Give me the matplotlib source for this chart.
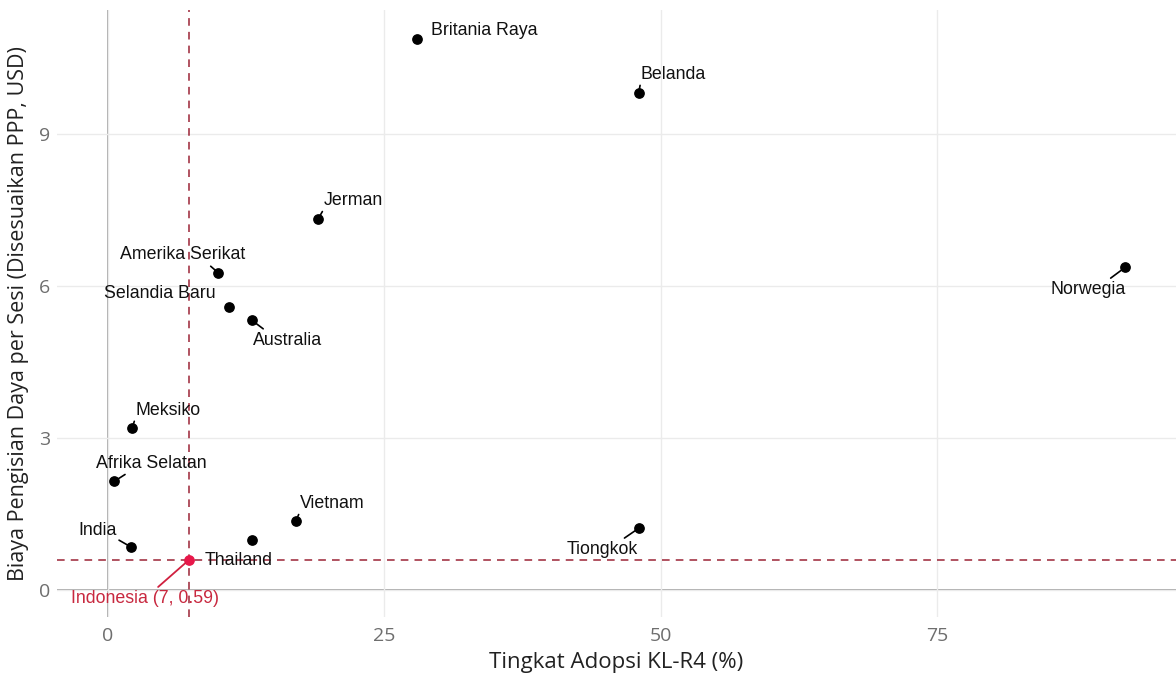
import matplotlib.pyplot as plt

# data
countries = ['Britania Raya', 'Belanda', 'Jerman', 'Amerika Serikat', 'Selandia Baru',
             'Australia', 'Norwegia', 'Meksiko', 'Afrika Selatan', 'Vietnam',
             'Tiongkok', 'India', 'Thailand']
adoption = [28.0, 48.0, 19.0, 10.0, 11.0, 13.0, 92.0, 2.2, 0.6, 17.0, 48.0, 2.1, 13.0]
cost = [10.87, 9.81, 7.32, 6.26, 5.59, 5.33, 6.37, 3.20, 2.15, 1.36, 1.22, 0.85, 0.99]

idn_name = 'Indonesia'
idn_adoption = 7.3
idn_cost = 0.59

# label placement (pixel offsets, ha, relpos for leader segment or None)
label_pos = {
    'Britania Raya': (14, 9, 'left', None),
    'Belanda': (2, 19, 'left', (0, 0)),
    'Jerman': (6, 19, 'left', (0, 0)),
    'Amerika Serikat': (-36, 18, 'center', (0.7, 0)),
    'Selandia Baru': (-70, 13, 'center', None),
    'Australia': (36, -20, 'center', (0.2, 1)),
    'Norwegia': (-37, -22, 'center', (0.75, 1)),
    'Meksiko': (3, 18, 'left', (0, 0)),
    'Afrika Selatan': (37, 18, 'center', (0.3, 0)),
    'Vietnam': (4, 18, 'left', (0, 0)),
    'Tiongkok': (-36, -21, 'center', (0.75, 1)),
    'India': (-34, 17, 'center', (1, 0)),
    'Thailand': (-13, -21, 'center', None),
}

W, H = 1176, 675
fig = plt.figure(figsize=(W / 100, H / 100), dpi=100)
ax = fig.add_axes([57 / W, (H - 617) / H, (W - 57) / W, (617 - 10) / H])

ax.set_xlim(-4.6, 96.6)
ax.set_ylim(-0.53, 11.45)
ax.set_xticks([0, 25, 50, 75])
ax.set_yticks([0, 3, 6, 9])
ax.grid(True, color='#ebebeb', lw=1.0, zorder=0)
for s in ax.spines.values():
    s.set_visible(False)
ax.tick_params(length=0, labelsize=14, labelcolor='#6e6e6e')
ax.tick_params(axis='x', pad=7)
ax.tick_params(axis='y', pad=5)
for lab in ax.get_xticklabels() + ax.get_yticklabels():
    lab.set_fontfamily('Open Sans')

ax.axhline(0, color='#9a9a9a', lw=1.2, zorder=1)
ax.axvline(0, color='#9a9a9a', lw=1.2, zorder=1)
ax.axhline(idn_cost, color='#9b2335', lw=1.1, ls=(0, (5, 4)), zorder=2)
ax.axvline(idn_adoption, color='#9b2335', lw=1.1, ls=(0, (5, 4)), zorder=2)

ax.scatter(adoption, cost, s=45, color='black', zorder=4)
ax.scatter([idn_adoption], [idn_cost], s=45, color='#e8174a', zorder=5)

for name, x, y in zip(countries, adoption, cost):
    dx, dy, ha, rel = label_pos[name]
    kw = {}
    if rel is not None:
        kw['arrowprops'] = dict(arrowstyle='-', color='black', lw=1.2,
                                shrinkA=0, shrinkB=3, relpos=rel)
    ax.annotate(name, (x, y), xytext=(dx, dy), textcoords='offset pixels',
                ha=ha, va='center', fontsize=12.8, family='Liberation Sans',
                color='#111111', zorder=6, **kw)

ax.annotate(f'{idn_name} ({round(idn_adoption)}, {idn_cost})', (idn_adoption, idn_cost),
            xytext=(-44, -38), textcoords='offset pixels', ha='center', va='center',
            fontsize=12.8, family='Liberation Sans', color='#c8283f', zorder=6,
            arrowprops=dict(arrowstyle='-', color='#d0203f', lw=1.3,
                            shrinkA=0, shrinkB=3, relpos=(0.57, 1)))

ax.set_xlabel('Tingkat Adopsi KL-R4 (%)', fontsize=16, family='Open Sans',
              color='#222222', labelpad=5)
ax.set_ylabel('Biaya Pengisian Daya per Sesi (Disesuaikan PPP, USD)', fontsize=15.5,
              family='Open Sans', color='#222222', labelpad=7)

fig.savefig('out.png', dpi=100)
